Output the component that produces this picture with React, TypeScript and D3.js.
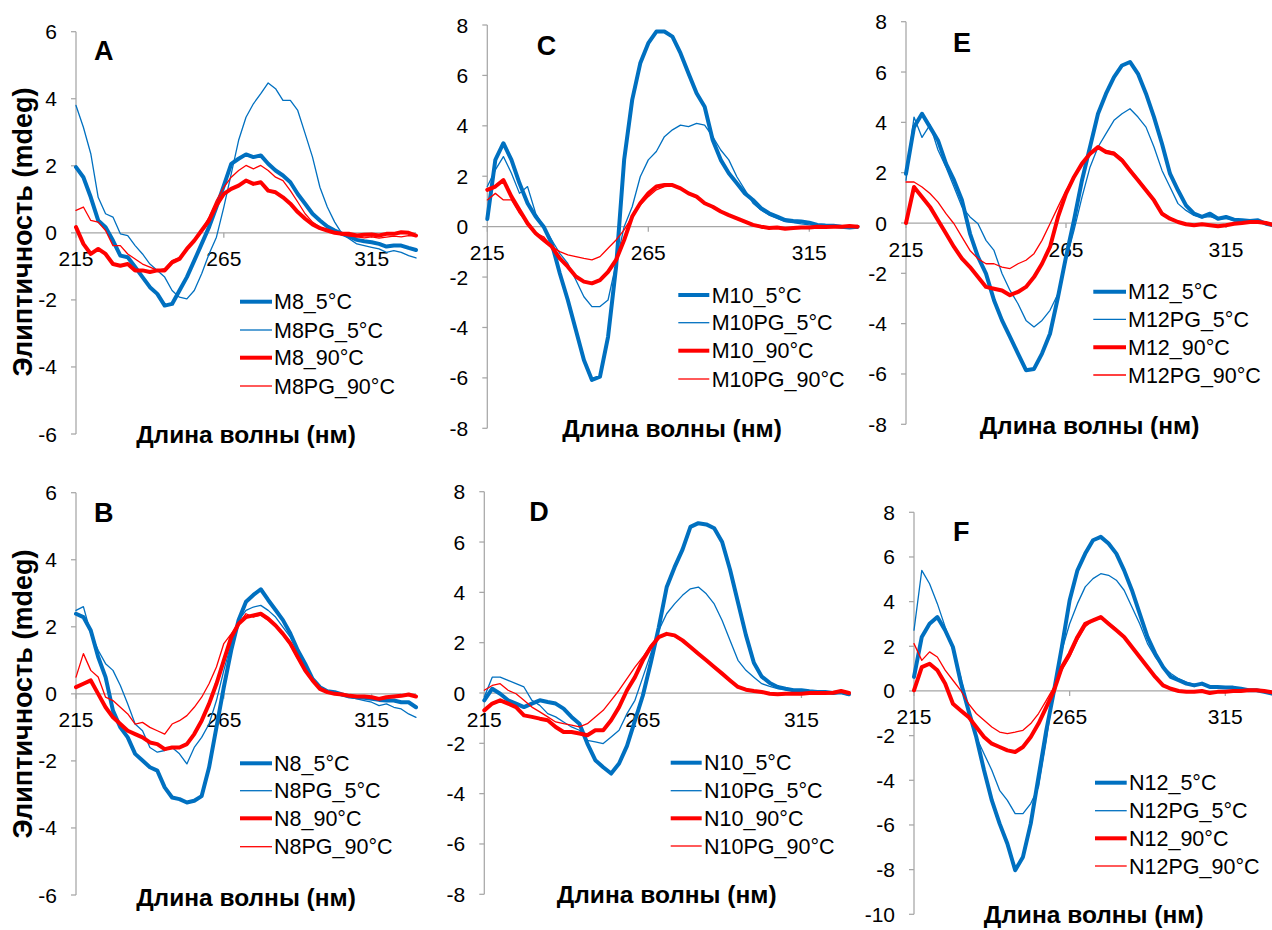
import React from 'react';
import * as d3 from 'd3';

// Wavelength grid (nm)
const WAVELENGTH = [215, 217.5, 220, 222.5, 225, 227.5, 230, 232.5, 235, 237.5, 240, 242.5, 245, 247.5, 250, 252.5, 255, 257.5, 260, 262.5, 265, 267.5, 270, 272.5, 275, 277.5, 280, 282.5, 285, 287.5, 290, 292.5, 295, 297.5, 300, 302.5, 305, 307.5, 310, 312.5, 315, 317.5, 320, 322.5, 325, 327.5, 330];
const X_TICKS = [215, 265, 315];
const X_TICK_LABELS = ['215', '265', '315'];

// Panel A
const M8_5 = [1.96, 1.66, 1.06, 0.37, 0.17, -0.23, -0.68, -0.73, -1.02, -1.32, -1.62, -1.82, -2.17, -2.12, -1.72, -1.32, -0.83, -0.33, 0.17, 0.77, 1.41, 2.06, 2.21, 2.34, 2.26, 2.31, 2.06, 1.86, 1.71, 1.51, 1.16, 0.87, 0.57, 0.37, 0.19, 0.07, -0.03, -0.11, -0.21, -0.25, -0.28, -0.33, -0.41, -0.38, -0.38, -0.45, -0.51];
const M8PG_5 = [3.8, 3.15, 2.36, 1.06, 0.57, 0.47, -0.03, -0.08, -0.38, -0.63, -0.93, -1.12, -1.32, -1.72, -1.92, -1.97, -1.72, -1.22, -0.63, -0.13, 0.77, 1.76, 2.76, 3.45, 3.85, 4.15, 4.47, 4.3, 3.95, 3.95, 3.65, 2.96, 2.26, 1.36, 0.77, 0.32, -0.03, -0.18, -0.33, -0.38, -0.43, -0.48, -0.58, -0.53, -0.58, -0.68, -0.75];
const M8_90 = [0.17, -0.33, -0.63, -0.48, -0.63, -0.93, -0.98, -0.93, -1.12, -1.12, -1.17, -1.12, -1.12, -0.88, -0.78, -0.48, -0.23, 0.07, 0.37, 0.82, 1.16, 1.31, 1.41, 1.56, 1.46, 1.51, 1.26, 1.21, 1.06, 0.87, 0.62, 0.42, 0.25, 0.14, 0.07, 0, -0.03, -0.03, -0.08, -0.06, -0.05, -0.08, -0.03, -0.03, 0.02, 0, -0.08];
const M8PG_90 = [0.67, 0.77, 0.37, 0.32, 0.07, -0.38, -0.38, -0.63, -0.78, -0.93, -1.02, -1.12, -1.07, -0.83, -0.73, -0.48, -0.23, 0.07, 0.47, 0.97, 1.36, 1.66, 1.86, 2.01, 1.91, 2.01, 1.86, 1.66, 1.56, 1.26, 0.92, 0.57, 0.32, 0.17, 0.09, 0.02, -0.06, -0.1, -0.12, -0.15, -0.12, -0.16, -0.13, -0.1, -0.12, -0.08, -0.1];

// Panel B
const N8_5 = [2.39, 2.29, 1.89, 1.1, 0.5, -0.5, -1.0, -1.3, -1.79, -1.99, -2.19, -2.29, -2.79, -3.09, -3.14, -3.24, -3.19, -3.05, -2.2, -1.0, 0.2, 1.3, 2.2, 2.75, 2.95, 3.12, 2.8, 2.5, 2.2, 1.8, 1.3, 0.9, 0.45, 0.2, 0.08, 0.05, -0.02, -0.08, -0.1, -0.12, -0.15, -0.18, -0.2, -0.2, -0.25, -0.25, -0.4];
const N8PG_5 = [2.49, 2.6, 1.8, 1.3, 0.9, 0.7, 0.25, -0.3, -0.9, -1.1, -1.6, -1.74, -1.69, -1.6, -1.79, -2.09, -1.6, -1.3, -0.9, -0.2, 0.7, 1.5, 2.19, 2.49, 2.59, 2.64, 2.49, 2.29, 1.99, 1.69, 1.25, 0.8, 0.4, 0.15, 0.05, 0, -0.05, -0.1, -0.15, -0.2, -0.25, -0.35, -0.3, -0.4, -0.45, -0.6, -0.7];
const N8_90 = [0.2, 0.3, 0.4, 0, -0.4, -0.7, -0.9, -1.1, -1.2, -1.3, -1.45, -1.5, -1.65, -1.6, -1.6, -1.5, -1.2, -0.8, -0.3, 0.3, 1.0, 1.69, 2.09, 2.29, 2.34, 2.39, 2.24, 2.04, 1.79, 1.5, 1.1, 0.7, 0.4, 0.15, 0.05, 0, -0.02, -0.06, -0.08, -0.08, -0.1, -0.15, -0.1, -0.08, -0.06, -0.02, -0.08];
const N8PG_90 = [0.5, 1.2, 0.7, 0.5, -0.1, -0.2, -0.4, -0.6, -0.9, -0.85, -1.0, -1.1, -1.2, -0.9, -0.8, -0.65, -0.4, -0.1, 0.3, 0.8, 1.5, 1.79, 2.09, 2.39, 2.29, 2.35, 2.2, 2.0, 1.75, 1.45, 1.05, 0.68, 0.38, 0.14, 0.05, -0.01, -0.03, -0.05, -0.1, -0.08, -0.12, -0.12, -0.1, -0.1, -0.06, -0.04, -0.1];

// Panel C
const M10_5 = [0.3, 2.65, 3.31, 2.65, 1.72, 0.93, 0.4, 0, -0.66, -1.85, -2.91, -4.1, -5.29, -6.08, -5.95, -4.37, -1.59, 2.65, 5.03, 6.48, 7.28, 7.74, 7.74, 7.54, 6.88, 6.08, 5.29, 4.76, 3.44, 2.65, 2.12, 1.72, 1.32, 1.06, 0.73, 0.53, 0.4, 0.26, 0.22, 0.2, 0.16, 0.07, 0.05, 0.04, 0, -0.03, 0];
const M10PG_5 = [1.59, 2.25, 2.78, 2.12, 1.32, 1.59, 0.53, 0, -0.53, -1.06, -1.46, -2.12, -2.78, -3.17, -3.17, -2.91, -1.46, 0, 0.79, 1.98, 2.65, 2.98, 3.57, 3.84, 4.03, 3.97, 4.1, 4.03, 3.57, 3.04, 2.65, 1.98, 1.46, 0.93, 0.66, 0.46, 0.33, 0.2, 0.16, 0.11, 0.07, 0.05, 0.04, 0.05, 0, -0.03, -0.07];
const M10_90 = [1.46, 1.59, 1.85, 1.19, 0.66, 0.13, -0.26, -0.53, -0.79, -1.26, -1.59, -1.98, -2.18, -2.25, -2.12, -1.79, -1.32, -0.53, 0.4, 0.93, 1.32, 1.59, 1.65, 1.65, 1.52, 1.32, 1.19, 0.93, 0.79, 0.6, 0.46, 0.33, 0.2, 0.07, 0, -0.05, -0.03, -0.08, -0.05, -0.03, -0.03, 0, -0.01, 0, 0, 0.03, 0];
const M10PG_90 = [1.06, 1.32, 1.06, 1.06, 0.53, 0.13, -0.26, -0.4, -0.79, -0.99, -1.12, -1.19, -1.26, -1.32, -1.19, -0.86, -0.53, -0.13, 0.4, 0.86, 1.19, 1.46, 1.59, 1.62, 1.55, 1.35, 1.2, 0.95, 0.8, 0.62, 0.48, 0.35, 0.22, 0.09, 0.02, -0.04, -0.05, -0.06, -0.04, -0.02, -0.04, -0.01, 0, 0.01, 0.02, 0.02, 0.03];

// Panel D
const N10_5 = [-0.29, 0.17, -0.03, -0.29, -0.42, -0.56, -0.42, -0.29, -0.36, -0.42, -0.62, -0.95, -1.22, -2.01, -2.67, -2.95, -3.2, -2.8, -2.1, -1.1, -0.1, 1.2, 2.6, 4.2, 5.0, 5.7, 6.6, 6.75, 6.7, 6.55, 6.0, 4.9, 3.6, 2.3, 1.2, 0.65, 0.4, 0.24, 0.17, 0.11, 0.11, 0.07, 0.04, 0.04, 0, 0.03, -0.05];
const N10PG_5 = [-0.16, 0.63, 0.63, 0.5, 0.37, 0.24, -0.29, -0.49, -0.82, -0.95, -1.15, -1.35, -1.48, -1.88, -1.94, -2.01, -1.75, -1.48, -0.82, -0.29, 0.63, 1.56, 2.49, 3.15, 3.54, 3.88, 4.14, 4.21, 3.94, 3.54, 2.88, 2.09, 1.3, 0.9, 0.63, 0.37, 0.26, 0.17, 0.13, 0.11, 0.08, 0.05, 0.04, 0.03, 0, 0, -0.09];
const N10_90 = [-0.69, -0.42, -0.29, -0.42, -0.56, -0.89, -0.95, -1.02, -1.08, -1.35, -1.55, -1.55, -1.61, -1.68, -1.48, -1.48, -1.08, -0.56, 0.11, 0.63, 1.3, 1.83, 2.22, 2.35, 2.29, 2.09, 1.83, 1.56, 1.3, 1.03, 0.77, 0.5, 0.24, 0.13, 0.08, 0.04, -0.03, -0.05, -0.03, -0.03, -0.03, 0, 0, 0, 0.01, 0.08, 0];
const N10PG_90 = [0.11, 0.3, 0.37, 0.11, -0.03, -0.29, -0.56, -0.75, -0.95, -1.15, -1.22, -1.28, -1.35, -1.22, -0.95, -0.69, -0.29, 0.11, 0.57, 1.03, 1.43, 1.89, 2.22, 2.33, 2.25, 2.05, 1.8, 1.52, 1.27, 1.0, 0.74, 0.48, 0.22, 0.12, 0.06, 0.02, -0.04, -0.06, -0.04, -0.02, -0.03, -0.01, 0.01, 0, 0.02, 0.06, 0.02];

// Panel E
const M12_5 = [1.96, 3.81, 4.34, 3.81, 3.28, 2.36, 1.7, 0.9, -0.42, -1.35, -2.01, -3.07, -3.87, -4.53, -5.19, -5.85, -5.8, -5.19, -4.4, -2.94, -1.35, 0.11, 1.7, 3.02, 4.34, 5.14, 5.8, 6.26, 6.4, 5.93, 5.14, 4.21, 3.15, 1.96, 1.3, 0.7, 0.37, 0.24, 0.37, 0.17, 0.24, 0.13, 0.11, 0.08, 0.11, -0.03, -0.09];
const M12PG_5 = [1.7, 4.21, 3.4, 3.9, 2.9, 2.22, 1.43, 0.64, 0.24, -0.03, -0.69, -1.09, -2.01, -2.68, -3.21, -3.87, -4.13, -3.87, -3.47, -2.81, -1.48, -0.29, 1.03, 2.22, 3.02, 3.55, 4.08, 4.34, 4.54, 4.21, 3.81, 3.02, 2.09, 1.43, 0.77, 0.5, 0.3, 0.22, 0.25, 0.15, 0.18, 0.1, 0.08, 0.06, 0.07, -0.02, -0.06];
const M12_90 = [0, 1.43, 1.03, 0.64, 0.11, -0.42, -0.95, -1.42, -1.75, -2.15, -2.54, -2.61, -2.68, -2.87, -2.74, -2.54, -2.15, -1.62, -0.95, 0.24, 1.17, 1.83, 2.36, 2.75, 3.02, 2.82, 2.75, 2.49, 2.09, 1.7, 1.3, 0.9, 0.37, 0.17, 0.04, -0.05, -0.09, -0.05, -0.09, -0.13, -0.09, -0.03, 0, 0.04, 0.04, 0, -0.09];
const M12PG_90 = [1.63, 1.63, 1.43, 1.17, 0.83, 0.37, -0.03, -0.56, -1.09, -1.42, -1.62, -1.62, -1.75, -1.81, -1.62, -1.48, -1.22, -0.69, -0.03, 0.64, 1.3, 1.83, 2.36, 2.69, 2.95, 2.89, 2.82, 2.55, 2.15, 1.75, 1.35, 0.95, 0.42, 0.2, 0.06, -0.03, -0.07, -0.06, -0.08, -0.1, -0.07, -0.04, -0.01, 0.03, 0.02, 0.01, -0.06];

// Panel F
const N12_5 = [0.63, 2.42, 3.01, 3.31, 2.72, 1.97, 0.4, -0.87, -2.06, -3.55, -4.9, -5.94, -6.84, -8.03, -7.43, -5.94, -3.85, -1.76, 0.03, 1.97, 4.06, 5.4, 6.15, 6.75, 6.9, 6.6, 6.15, 5.4, 4.51, 3.46, 2.42, 1.67, 1.07, 0.63, 0.48, 0.33, 0.25, 0.33, 0.18, 0.18, 0.15, 0.15, 0.1, 0.03, 0.03, -0.04, -0.12];
const N12PG_5 = [2.72, 5.4, 4.8, 3.91, 2.87, 1.82, 0.63, -0.87, -2.06, -2.81, -3.55, -4.45, -4.9, -5.49, -5.49, -5.04, -4.3, -2.21, 0.18, 1.82, 3.01, 3.91, 4.66, 5.03, 5.25, 5.18, 4.96, 4.51, 3.76, 3.01, 2.12, 1.52, 1.07, 0.78, 0.55, 0.4, 0.3, 0.28, 0.2, 0.16, 0.14, 0.12, 0.08, 0.04, 0.02, -0.03, -0.08];
const N12_90 = [0.03, 1.07, 1.22, 0.93, 0.33, -0.57, -0.87, -1.16, -1.61, -2.06, -2.36, -2.51, -2.66, -2.73, -2.51, -2.06, -1.46, -0.72, 0.03, 1.07, 1.67, 2.42, 3.01, 3.16, 3.31, 3.01, 2.72, 2.42, 1.97, 1.52, 1.07, 0.63, 0.25, 0.1, 0, -0.04, -0.04, 0, -0.09, -0.04, -0.04, 0, 0, 0.03, 0.03, 0, -0.06];
const N12PG_90 = [2.12, 1.37, 1.75, 1.52, 0.93, 0.48, 0.03, -0.57, -1.01, -1.31, -1.61, -1.84, -1.91, -1.84, -1.76, -1.46, -1.01, -0.42, 0.18, 0.93, 1.52, 2.27, 2.87, 3.16, 3.24, 3.05, 2.78, 2.45, 2.0, 1.55, 1.1, 0.66, 0.28, 0.12, 0.02, -0.02, -0.03, 0.01, -0.06, -0.03, -0.02, 0.01, 0.01, 0.02, 0.04, 0.01, -0.04];

const BLUE = '#0070C0';
const RED = '#FF0000';
const STYLES = [
  { color: BLUE, width: 4 },
  { color: BLUE, width: 1.3 },
  { color: RED, width: 4 },
  { color: RED, width: 1.3 },
];

const FONT = '"Liberation Sans", Arial, sans-serif';
const X_TITLE = 'Длина волны (нм)';
const Y_TITLE = 'Элиптичность (mdeg)';

type PanelDef = {
  letter: string;
  names: string[];
  series: number[][];
  yMin: number;
  yMax: number;
  x0: number; x1: number; yTop: number; yBot: number;
  legX0: number; legX1: number; legTextX: number; legRows: number[];
  letterX: number; letterY: number;
  xTitleX: number; xTitleY: number;
  yTitle?: { x: number; y: number };
};

const PANELS: PanelDef[] = [
  {
    letter: 'A', names: ['M8_5°C', 'M8PG_5°C', 'M8_90°C', 'M8PG_90°C'],
    series: [M8_5, M8PG_5, M8_90, M8PG_90], yMin: -6, yMax: 6,
    x0: 76, x1: 416, yTop: 31.7, yBot: 434,
    legX0: 240, legX1: 272, legTextX: 274, legRows: [301.7, 330, 357.7, 386],
    letterX: 94, letterY: 60, xTitleX: 246, xTitleY: 443,
    yTitle: { x: 31.5, y: 232 },
  },
  {
    letter: 'B', names: ['N8_5°C', 'N8PG_5°C', 'N8_90°C', 'N8PG_90°C'],
    series: [N8_5, N8PG_5, N8_90, N8PG_90], yMin: -6, yMax: 6,
    x0: 76, x1: 416, yTop: 492.7, yBot: 895,
    legX0: 240, legX1: 272, legTextX: 274, legRows: [763.3, 790.7, 818.3, 846.7],
    letterX: 94, letterY: 521.7, xTitleX: 246, xTitleY: 906,
    yTitle: { x: 31.5, y: 694 },
  },
  {
    letter: 'C', names: ['M10_5°C', 'M10PG_5°C', 'M10_90°C', 'M10PG_90°C'],
    series: [M10_5, M10PG_5, M10_90, M10PG_90], yMin: -8, yMax: 8,
    x0: 487.3, x1: 857.6, yTop: 25, yBot: 428.3,
    legX0: 678.3, legX1: 709.3, legTextX: 711.7, legRows: [295, 322.7, 350.7, 379],
    letterX: 536.7, letterY: 55, xTitleX: 672, xTitleY: 436.5,
  },
  {
    letter: 'D', names: ['N10_5°C', 'N10PG_5°C', 'N10_90°C', 'N10PG_90°C'],
    series: [N10_5, N10PG_5, N10_90, N10PG_90], yMin: -8, yMax: 8,
    x0: 484.3, x1: 849, yTop: 491.7, yBot: 894.3,
    legX0: 670.7, legX1: 701.7, legTextX: 704, legRows: [762.7, 790.7, 818.3, 846],
    letterX: 529.3, letterY: 520.7, xTitleX: 666.7, xTitleY: 903,
  },
  {
    letter: 'E', names: ['M12_5°C', 'M12PG_5°C', 'M12_90°C', 'M12PG_90°C'],
    series: [M12_5, M12PG_5, M12_90, M12PG_90], yMin: -8, yMax: 8,
    x0: 906, x1: 1274, yTop: 21.7, yBot: 424.3,
    legX0: 1093.3, legX1: 1126, legTextX: 1128, legRows: [291.7, 319.3, 347.3, 375],
    letterX: 953, letterY: 51.7, xTitleX: 1089.5, xTitleY: 433.5,
  },
  {
    letter: 'F', names: ['N12_5°C', 'N12PG_5°C', 'N12_90°C', 'N12PG_90°C'],
    series: [N12_5, N12PG_5, N12_90, N12PG_90], yMin: -10, yMax: 8,
    x0: 914, x1: 1272, yTop: 512.3, yBot: 914.3,
    legX0: 1095, legX1: 1126.7, legTextX: 1129, legRows: [782.7, 810.7, 838.3, 866],
    letterX: 953, letterY: 540.7, xTitleX: 1093.7, xTitleY: 923,
  },
];

const AXIS = '#A6A6A6';

function Panel({ p }: { p: PanelDef }) {
  const x = d3.scaleLinear().domain([215, 330]).range([p.x0, p.x1]);
  const y = d3.scaleLinear().domain([p.yMin, p.yMax]).range([p.yBot, p.yTop]);
  const line = d3.line<number>().x((_, i) => x(WAVELENGTH[i])).y((d) => y(d));
  const yTicks = d3.range(p.yMin, p.yMax + 0.001, 2);
  const y0 = y(0);
  return (
    <g>
      <line x1={p.x0} x2={p.x0} y1={p.yTop} y2={p.yBot} stroke={AXIS} strokeWidth={1.25} />
      {yTicks.map((t) => (
        <g key={'yt' + t}>
          <line x1={p.x0 - 5} x2={p.x0} y1={y(t)} y2={y(t)} stroke={AXIS} strokeWidth={1.25} />
          <text x={p.x0 - 19} y={y(t) + 7.5} textAnchor="end" fontSize={21} fontFamily={FONT} fill="#000">
            {String(t)}
          </text>
        </g>
      ))}
      <line x1={p.x0} x2={p.x1} y1={y0} y2={y0} stroke={AXIS} strokeWidth={1.25} />
      {X_TICKS.map((t, i) => (
        <g key={'xt' + t}>
          <line x1={x(t)} x2={x(t)} y1={y0} y2={y0 + 5} stroke={AXIS} strokeWidth={1.25} />
          <text x={x(t)} y={y0 + 33.5} textAnchor="middle" fontSize={21} fontFamily={FONT} fill="#000">
            {X_TICK_LABELS[i]}
          </text>
        </g>
      ))}
      {p.series.map((s, i) => (
        <path key={'s' + i} d={line(s) || ''} fill="none" stroke={STYLES[i].color}
          strokeWidth={STYLES[i].width} strokeLinejoin="round" strokeLinecap="round" />
      ))}
      {p.names.map((n, i) => (
        <g key={'lg' + i}>
          <line x1={p.legX0} x2={p.legX1} y1={p.legRows[i]} y2={p.legRows[i]}
            stroke={STYLES[i].color} strokeWidth={STYLES[i].width} />
          <text x={p.legTextX} y={p.legRows[i] + 7.5} fontSize={21.5} fontFamily={FONT} fill="#000">{n}</text>
        </g>
      ))}
      <text x={p.letterX} y={p.letterY} fontSize={27} fontWeight="bold" fontFamily={FONT} fill="#000">{p.letter}</text>
      <text x={p.xTitleX} y={p.xTitleY} textAnchor="middle" fontSize={24.5} fontWeight="bold" fontFamily={FONT} fill="#000">{X_TITLE}</text>
      {p.yTitle && (
        <text transform={`translate(${p.yTitle.x},${p.yTitle.y}) rotate(-90)`} textAnchor="middle"
          fontSize={27} fontWeight="bold" fontFamily={FONT} fill="#000">{Y_TITLE}</text>
      )}
    </g>
  );
}

export default function App() {
  return (
    <svg width={1272} height={930} viewBox="0 0 1272 930"
      style={{ position: 'absolute', left: 0, top: 0, display: 'block', background: '#fff' }}>
      <rect x={0} y={0} width={1272} height={930} fill="#fff" />
      {PANELS.map((p) => <Panel key={p.letter} p={p} />)}
    </svg>
  );
}
